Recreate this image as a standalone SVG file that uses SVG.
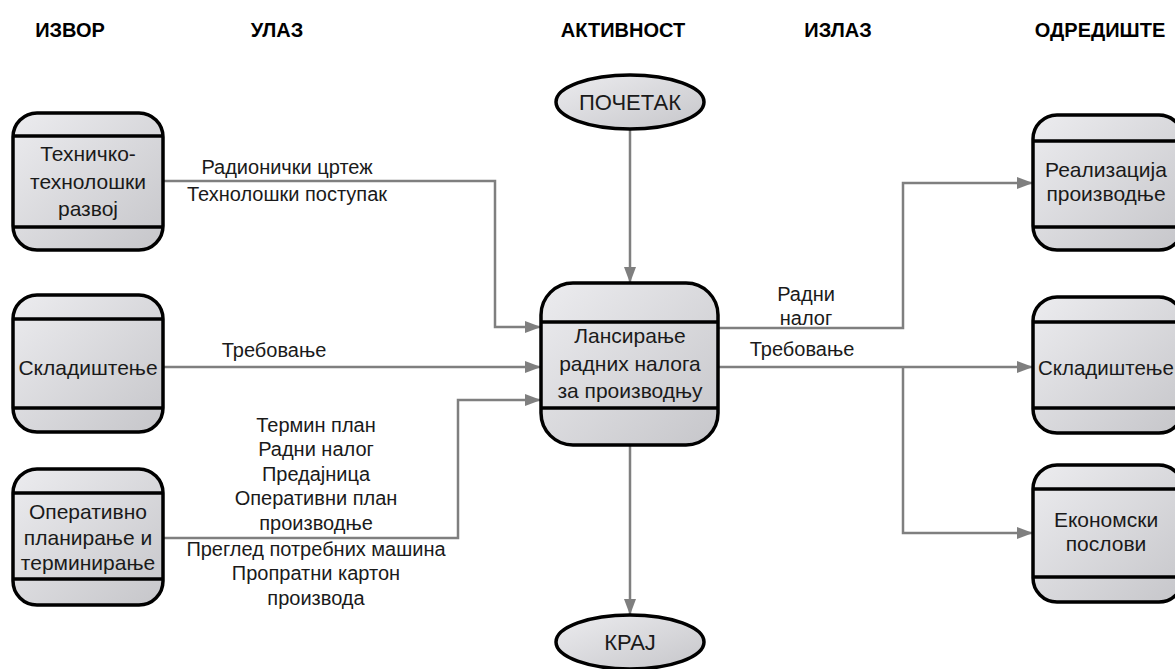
<svg xmlns="http://www.w3.org/2000/svg" width="1175" height="669" viewBox="0 0 1175 669">
  <defs>
    <linearGradient id="fillGrad" x1="0" y1="0" x2="1" y2="1">
      <stop offset="0" stop-color="#ececef"/>
      <stop offset="1" stop-color="#c6c6ca"/>
    </linearGradient>
    <marker id="arrow" markerWidth="16" markerHeight="12" refX="16" refY="6" orient="auto" markerUnits="userSpaceOnUse">
      <path d="M0,0 L16,6 L0,12 Z" fill="#7f7f7f"/>
    </marker>
  </defs>
  <style>
    .head { font-family: "Liberation Sans", Arial, sans-serif; font-size: 20px; font-weight: bold; fill: #000; text-anchor: middle; }
    .lbl { font-family: "Liberation Sans", Arial, sans-serif; font-size: 20px; fill: #1a1a1a; text-anchor: middle; }
    .txt { font-family: "Liberation Sans", Arial, sans-serif; font-size: 21px; fill: #1a1a1a; text-anchor: middle; }
    .term { font-family: "Liberation Sans", Arial, sans-serif; font-size: 22px; fill: #1a1a1a; text-anchor: middle; }
    .box { fill: url(#fillGrad); stroke: #000; stroke-width: 3.5; }
    .sep { stroke: #000; stroke-width: 3.5; fill: none; }
    .conn { stroke: #7f7f7f; stroke-width: 2.5; fill: none; }
    .arr { marker-end: url(#arrow); }
  </style>

  <rect width="1175" height="669" fill="#ffffff"/>

  <!-- column headings -->
  <g id="headings">
    <text class="head" x="70" y="37">ИЗВОР</text>
    <text class="head" x="277" y="37">УЛАЗ</text>
    <text class="head" x="623" y="37">АКТИВНОСТ</text>
    <text class="head" x="838" y="37">ИЗЛАЗ</text>
    <text class="head" x="1100" y="37">ОДРЕДИШТЕ</text>
  </g>

  <!-- connectors -->
  <g id="connectors">
    <polyline class="conn arr" points="163,181 495,181 495,327 541,327"/>
    <polyline class="conn arr" points="163,367 541,367"/>
    <polyline class="conn arr" points="163,538 458,538 458,400 541,400"/>
    <polyline class="conn arr" points="630,130 630,283"/>
    <polyline class="conn arr" points="630,445 630,615"/>
    <polyline class="conn arr" points="718,328 903,328 903,183 1033,183"/>
    <polyline class="conn arr" points="718,367 1033,367"/>
    <polyline class="conn arr" points="903,367 903,533 1033,533"/>
  </g>

  <!-- connector labels -->
  <g id="labels">
    <text class="lbl" x="287" y="174">Радионички цртеж</text>
    <text class="lbl" x="287" y="201">Технолошки поступак</text>
    <text class="lbl" x="274" y="357">Требовање</text>
    <text class="lbl" x="316" y="432">Термин план</text>
    <text class="lbl" x="316" y="456">Радни налог</text>
    <text class="lbl" x="316" y="481">Предајница</text>
    <text class="lbl" x="316" y="505">Оперативни план</text>
    <text class="lbl" x="316" y="530">производње</text>
    <text class="lbl" x="316" y="556">Преглед потребних машина</text>
    <text class="lbl" x="316" y="580">Пропратни картон</text>
    <text class="lbl" x="316" y="605">производа</text>
    <text class="lbl" x="806" y="301">Радни</text>
    <text class="lbl" x="806" y="325">налог</text>
    <text class="lbl" x="802" y="356">Требовање</text>
  </g>

  <!-- sources -->
  <g id="src-tech">
    <rect class="box" x="13" y="113" width="150" height="137" rx="24"/>
    <line class="sep" x1="13" y1="136" x2="163" y2="136"/>
    <line class="sep" x1="13" y1="227" x2="163" y2="227"/>
    <text class="txt" x="88" y="161">Техничко-</text>
    <text class="txt" x="88" y="189">технолошки</text>
    <text class="txt" x="88" y="216">развој</text>
  </g>
  <g id="src-store">
    <rect class="box" x="13" y="295" width="150" height="137" rx="24"/>
    <line class="sep" x1="13" y1="319" x2="163" y2="319"/>
    <line class="sep" x1="13" y1="408" x2="163" y2="408"/>
    <text class="txt" x="88" y="375">Складиштење</text>
  </g>
  <g id="src-plan">
    <rect class="box" x="13" y="469" width="150" height="136" rx="24"/>
    <line class="sep" x1="13" y1="493" x2="163" y2="493"/>
    <line class="sep" x1="13" y1="579" x2="163" y2="579"/>
    <text class="txt" x="88" y="519">Оперативно</text>
    <text class="txt" x="88" y="545">планирање и</text>
    <text class="txt" x="88" y="570">терминирање</text>
  </g>

  <!-- activity -->
  <g id="start">
    <ellipse cx="630" cy="102" rx="74" ry="27" fill="url(#fillGrad)" stroke="#000" stroke-width="3.5"/>
    <text class="term" x="630" y="110">ПОЧЕТАК</text>
  </g>
  <g id="activity">
    <rect class="box" x="541" y="283" width="177" height="162" rx="32"/>
    <line class="sep" x1="541" y1="322" x2="718" y2="322"/>
    <line class="sep" x1="541" y1="408" x2="718" y2="408"/>
    <text class="txt" x="630" y="343">Лансирање</text>
    <text class="txt" x="630" y="371">радних налога</text>
    <text class="txt" x="630" y="398">за производњу</text>
  </g>
  <g id="end">
    <ellipse cx="630" cy="642" rx="74" ry="27" fill="url(#fillGrad)" stroke="#000" stroke-width="3.5"/>
    <text class="term" x="630" y="650">КРАЈ</text>
  </g>

  <!-- destinations -->
  <g id="dst-prod">
    <rect class="box" x="1033" y="115" width="150" height="135" rx="24"/>
    <line class="sep" x1="1033" y1="141" x2="1183" y2="141"/>
    <line class="sep" x1="1033" y1="227" x2="1183" y2="227"/>
    <text class="txt" x="1106" y="177">Реализација</text>
    <text class="txt" x="1106" y="201">производње</text>
  </g>
  <g id="dst-store">
    <rect class="box" x="1033" y="297" width="150" height="136" rx="24"/>
    <line class="sep" x1="1033" y1="322" x2="1183" y2="322"/>
    <line class="sep" x1="1033" y1="408" x2="1183" y2="408"/>
    <text class="txt" x="1038" y="375" style="text-anchor:start;font-size:20.5px">Складиштење</text>
  </g>
  <g id="dst-econ">
    <rect class="box" x="1033" y="465" width="150" height="137" rx="24"/>
    <line class="sep" x1="1033" y1="489" x2="1183" y2="489"/>
    <line class="sep" x1="1033" y1="577" x2="1183" y2="577"/>
    <text class="txt" x="1106" y="527">Економски</text>
    <text class="txt" x="1106" y="551">послови</text>
  </g>
</svg>
